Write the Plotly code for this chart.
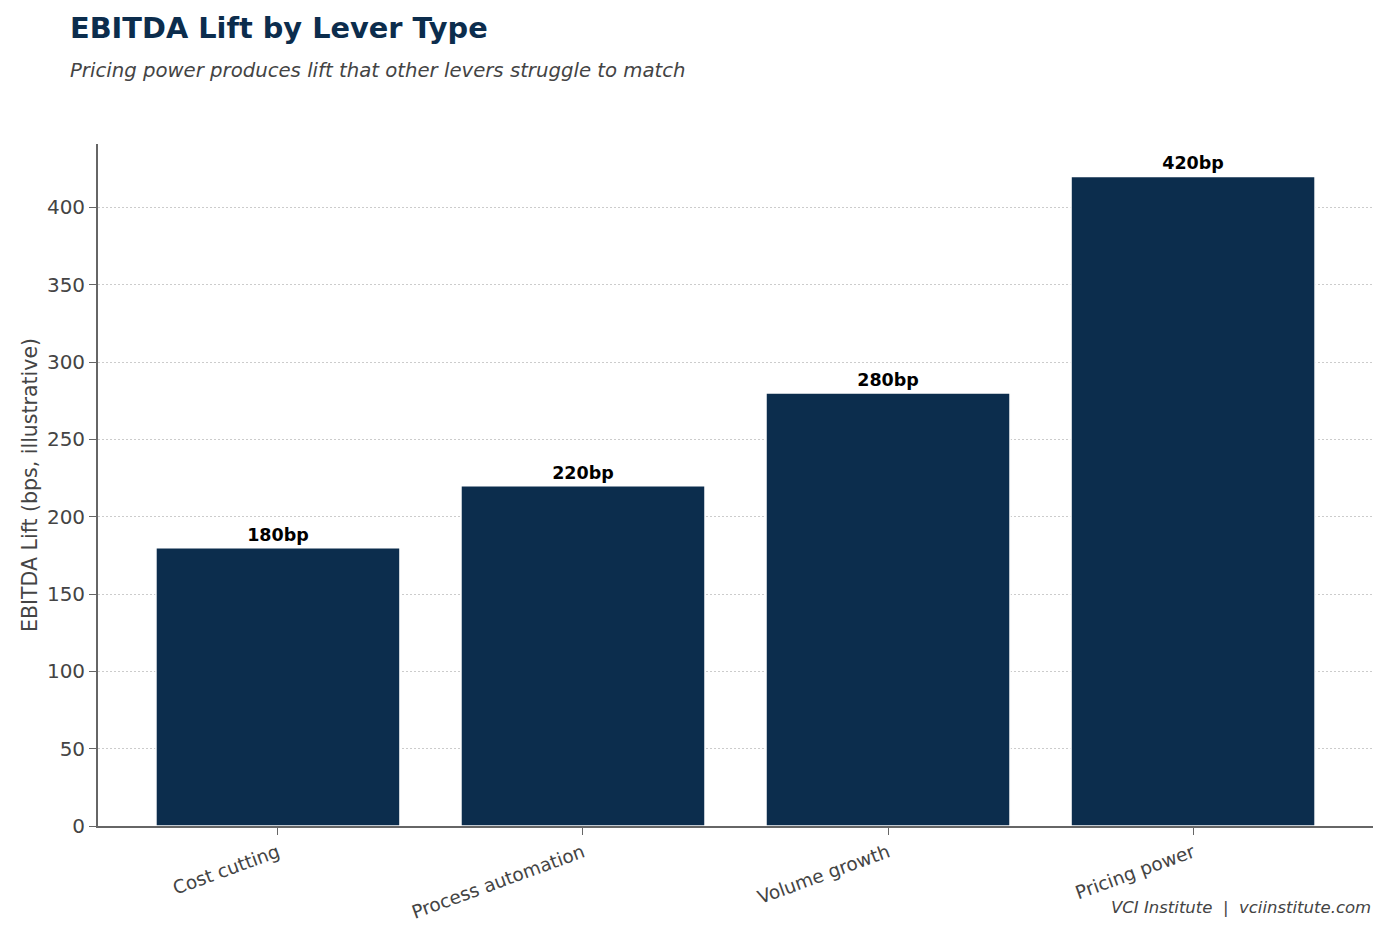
import plotly.graph_objects as go

# data
levers = ["Cost cutting", "Process automation", "Volume growth", "Pricing power"]
lift_bps = [180, 220, 280, 420]
bar_labels = ["180bp", "220bp", "280bp", "420bp"]

navy = "#0c2d4d"
grey = "#444444"
font = "DejaVu Sans"

fig = go.Figure(
    go.Bar(
        x=levers,
        y=lift_bps,
        width=0.8,
        marker=dict(color=navy, line=dict(color="white", width=1.5)),
        text=bar_labels,
        textposition="outside",
        textfont=dict(family=font, size=17.5, color="black", weight="bold"),
        cliponaxis=False,
    )
)

# page body adds ~8px offset, margins compensate
fig.update_layout(
    width=1387,
    height=937,
    margin=dict(l=90, r=22, t=136, b=119),
    plot_bgcolor="white",
    paper_bgcolor="white",
    font=dict(family=font, color=grey),
    showlegend=False,
    bargap=0.2,
)

fig.update_xaxes(
    range=[-0.59, 3.59],
    showline=True,
    linecolor="#666666",
    linewidth=1.8,
    ticks="outside",
    ticklen=7,
    tickcolor="#666666",
    tickangle=-20,
    tickfont=dict(size=18.5, color=grey),
    showgrid=False,
)
fig.update_yaxes(
    range=[0, 441],
    dtick=50,
    showline=True,
    linecolor="#666666",
    linewidth=1.8,
    ticks="outside",
    ticklen=7,
    tickcolor="#666666",
    tickfont=dict(size=20, color=grey),
    showgrid=True,
    gridcolor="#cccccc",
    griddash="1.5px,2.5px",
    gridwidth=1.2,
    zeroline=False,
    title=dict(text="EBITDA Lift (bps, illustrative)", font=dict(size=20.5, color=grey), standoff=4),
)

# title, subtitle, footer
fig.add_annotation(
    text="<b>EBITDA Lift by Lever Type</b>",
    xref="paper", yref="paper", x=-0.0235, y=1.0 + (144 - 28) / 682,
    xanchor="left", yanchor="middle", showarrow=False,
    font=dict(size=28.8, color="#0c2d4d", family=font),
)
fig.add_annotation(
    text="<i>Pricing power produces lift that other levers struggle to match</i>",
    xref="paper", yref="paper", x=-0.0235, y=1.0 + (144 - 70) / 682,
    xanchor="left", yanchor="middle", showarrow=False,
    font=dict(size=19.7, color=grey, family=font),
)
fig.add_annotation(
    text="<i>VCI Institute  |  vciinstitute.com</i>",
    xref="paper", yref="paper", x=1.0, y=-(908 - 826) / 682,
    xanchor="right", yanchor="middle", showarrow=False,
    font=dict(size=16.5, color=grey, family=font),
)

fig.write_html("out.html")
